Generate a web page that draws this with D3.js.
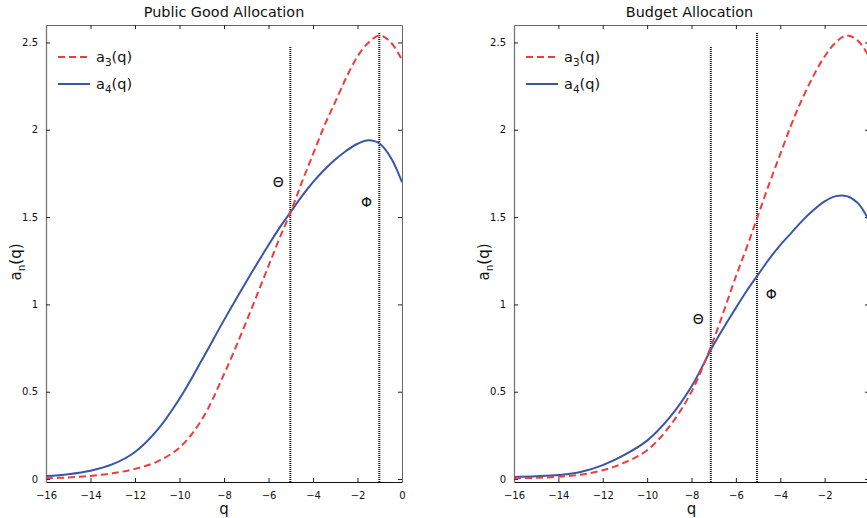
<!DOCTYPE html>
<html>
<head>
<meta charset="utf-8">
<script src="https://cdn.jsdelivr.net/npm/d3@7"></script>
<style>
  body { margin: 0; background: #fff; }
  svg { display: block; font-family: "DejaVu Sans", sans-serif; }
</style>
</head>
<body>
<svg id="chart" width="867" height="518"></svg>
<script>
// q grid shared by all curves
const qValues = [-16, -15, -14, -13, -12, -11, -10, -9, -8, -7, -6, -5.5, -5, -4.5, -4, -3.5, -3, -2.5, -2, -1.5, -1, -0.5, 0];

// Public Good Allocation
const a3Left = [0.004, 0.009, 0.018, 0.033, 0.058, 0.10, 0.18, 0.34, 0.60, 0.90, 1.22, 1.38, 1.53, 1.70, 1.86, 2.02, 2.16, 2.30, 2.42, 2.50, 2.54, 2.50, 2.40];
const a4Left = [0.017, 0.028, 0.048, 0.085, 0.155, 0.28, 0.46, 0.68, 0.91, 1.13, 1.34, 1.44, 1.53, 1.62, 1.70, 1.77, 1.83, 1.88, 1.92, 1.94, 1.92, 1.84, 1.70];
const markersLeft = [
  { name: "Θ", q: -5.02, top: 2.48, labelQ: -5.56, labelV: 1.67 },
  { name: "Φ", q: -1.02, top: 2.56, labelQ: -1.59, labelV: 1.56 },
];

// Budget Allocation
const a3Right = [0.004, 0.007, 0.013, 0.025, 0.05, 0.095, 0.165, 0.30, 0.50, 0.80, 1.16, 1.33, 1.51, 1.69, 1.86, 2.03, 2.18, 2.31, 2.42, 2.50, 2.54, 2.51, 2.42];
const a4Right = [0.012, 0.016, 0.023, 0.04, 0.08, 0.14, 0.22, 0.35, 0.53, 0.77, 0.98, 1.08, 1.17, 1.26, 1.34, 1.41, 1.48, 1.54, 1.59, 1.62, 1.62, 1.58, 1.48];
const markersRight = [
  { name: "Θ", q: -7.13, top: 2.48, labelQ: -7.69, labelV: 0.89 },
  { name: "Φ", q: -5.05, top: 2.56, labelQ: -4.41, labelV: 1.03 },
];

const xTicks = [-16, -14, -12, -10, -8, -6, -4, -2, 0];
const yTicks = [0, 0.5, 1, 1.5, 2, 2.5];
const titles = ["Public Good Allocation", "Budget Allocation"];

const svg = d3.select("#chart");
const red = "#f23a3a";
const blue = "#3a55a6";

const panels = [
  { title: titles[0], a3: a3Left, a4: a4Left, markers: markersLeft, x0: 46, x1: 402 },
  { title: titles[1], a3: a3Right, a4: a4Right, markers: markersRight, x0: 514, x1: 869 },
];

const drawPanel = (p, idx) => {
  const top = 25;
  const bottom = 482;
  const xScale = d3.scaleLinear().domain([-16, 0]).range([p.x0, p.x1]);
  const yScale = d3.scaleLinear().domain([-0.017, 2.6]).range([bottom, top]);
  const g = svg.append("g");

  const clipId = "clip" + idx;
  g.append("clipPath").attr("id", clipId)
    .append("rect")
    .attr("x", p.x0).attr("y", top)
    .attr("width", p.x1 - p.x0).attr("height", bottom - top);

  // axes, ticks pointing inward
  const axisBottom = g.append("g")
    .attr("transform", `translate(0,${bottom})`)
    .call(d3.axisBottom(xScale).tickValues(xTicks).tickSizeInner(-4).tickSizeOuter(0).tickPadding(10).tickFormat(d3.format("d")));
  const axisTop = g.append("g")
    .attr("transform", `translate(0,${top})`)
    .call(d3.axisTop(xScale).tickValues(xTicks).tickSizeInner(-4).tickSizeOuter(0).tickFormat(""));
  const axisLeft = g.append("g")
    .attr("transform", `translate(${p.x0},0)`)
    .call(d3.axisLeft(yScale).tickValues(yTicks).tickSizeInner(-4).tickSizeOuter(0).tickPadding(8).tickFormat(d3.format("")));
  const axisRight = g.append("g")
    .attr("transform", `translate(${p.x1},0)`)
    .call(d3.axisRight(yScale).tickValues(yTicks).tickSizeInner(-4).tickSizeOuter(0).tickFormat(""));

  [axisBottom, axisTop, axisLeft, axisRight].forEach((a) => {
    a.selectAll("text").attr("font-family", "DejaVu Sans").attr("font-size", 10).attr("fill", "#111");
    a.selectAll(".tick line").attr("stroke", "#222");
  });
  axisBottom.select(".domain").attr("stroke", "#111");
  axisTop.select(".domain").attr("stroke", "#666");
  axisLeft.select(".domain").attr("stroke", "#777").attr("stroke-width", 1.3);
  axisRight.select(".domain").attr("stroke", "#666");
  // ticks at the edges overlap the frame
  axisBottom.selectAll(".tick").filter((d) => d === -16 || d === 0).select("line").remove();
  axisTop.selectAll(".tick").filter((d) => d === -16 || d === 0).select("line").remove();
  // the right panel is cut at the window edge: its "0" label does not show
  if (idx === 1) axisBottom.selectAll(".tick").filter((d) => d === 0).select("text").remove();

  const line = (vals) => d3.line()
    .x((d, i) => xScale(qValues[i]))
    .y((d) => yScale(d))
    .curve(d3.curveCatmullRom.alpha(0.5))(vals);

  const plot = g.append("g").attr("clip-path", `url(#${clipId})`);

  // vertical dotted markers
  plot.selectAll(".marker")
    .data(p.markers)
    .enter()
    .append("line")
    .attr("x1", (d) => xScale(d.q)).attr("x2", (d) => xScale(d.q))
    .attr("y1", bottom).attr("y2", (d) => yScale(d.top))
    .attr("stroke", "#111").attr("stroke-width", 2)
    .attr("stroke-dasharray", "1,1");

  plot.append("path")
    .attr("d", line(p.a4))
    .attr("fill", "none").attr("stroke", blue).attr("stroke-width", 2);
  plot.append("path")
    .attr("d", line(p.a3))
    .attr("fill", "none").attr("stroke", red).attr("stroke-width", 2)
    .attr("stroke-dasharray", "7,4");

  // marker labels
  g.selectAll(".mlabel")
    .data(p.markers)
    .enter()
    .append("text")
    .attr("x", (d) => xScale(d.labelQ))
    .attr("y", (d) => yScale(d.labelV))
    .attr("text-anchor", "middle")
    .attr("font-size", 14)
    .attr("fill", "#111")
    .text((d) => d.name);

  // title and axis labels
  g.append("text")
    .attr("x", (p.x0 + p.x1) / 2 + (idx === 1 ? -2 : 0)).attr("y", 17)
    .attr("text-anchor", "middle").attr("font-size", 14.4).attr("fill", "#111")
    .text(p.title);

  g.append("text")
    .attr("x", (p.x0 + p.x1) / 2).attr("y", 514)
    .attr("text-anchor", "middle").attr("font-size", 15).attr("fill", "#111")
    .text("q");

  const yl = g.append("text")
    .attr("transform", `translate(${p.x0 - 25},262) rotate(-90)`)
    .attr("text-anchor", "middle").attr("font-size", 15).attr("fill", "#111");
  yl.append("tspan").text("a");
  yl.append("tspan").attr("font-size", 10.5).attr("dy", 4).text("n");
  yl.append("tspan").attr("dy", -4).text("(q)");

  // legend
  const legend = [
    { sub: "3", color: red, dash: "7,4", y: 57 },
    { sub: "4", color: blue, dash: null, y: 84 },
  ];
  const lg = g.append("g").attr("transform", `translate(${p.x0 + 12},0)`);
  legend.forEach((l) => {
    lg.append("line")
      .attr("x1", 0).attr("x2", 32)
      .attr("y1", l.y).attr("y2", l.y)
      .attr("stroke", l.color).attr("stroke-width", 2)
      .attr("stroke-dasharray", l.dash);
    const t = lg.append("text")
      .attr("x", 38).attr("y", l.y + 5)
      .attr("font-size", 14.5).attr("fill", "#111");
    t.append("tspan").text("a");
    t.append("tspan").attr("font-size", 10.5).attr("dy", 4).text(l.sub);
    t.append("tspan").attr("dy", -4).text("(q)");
  });
};

panels.forEach(drawPanel);
</script>
</body>
</html>
